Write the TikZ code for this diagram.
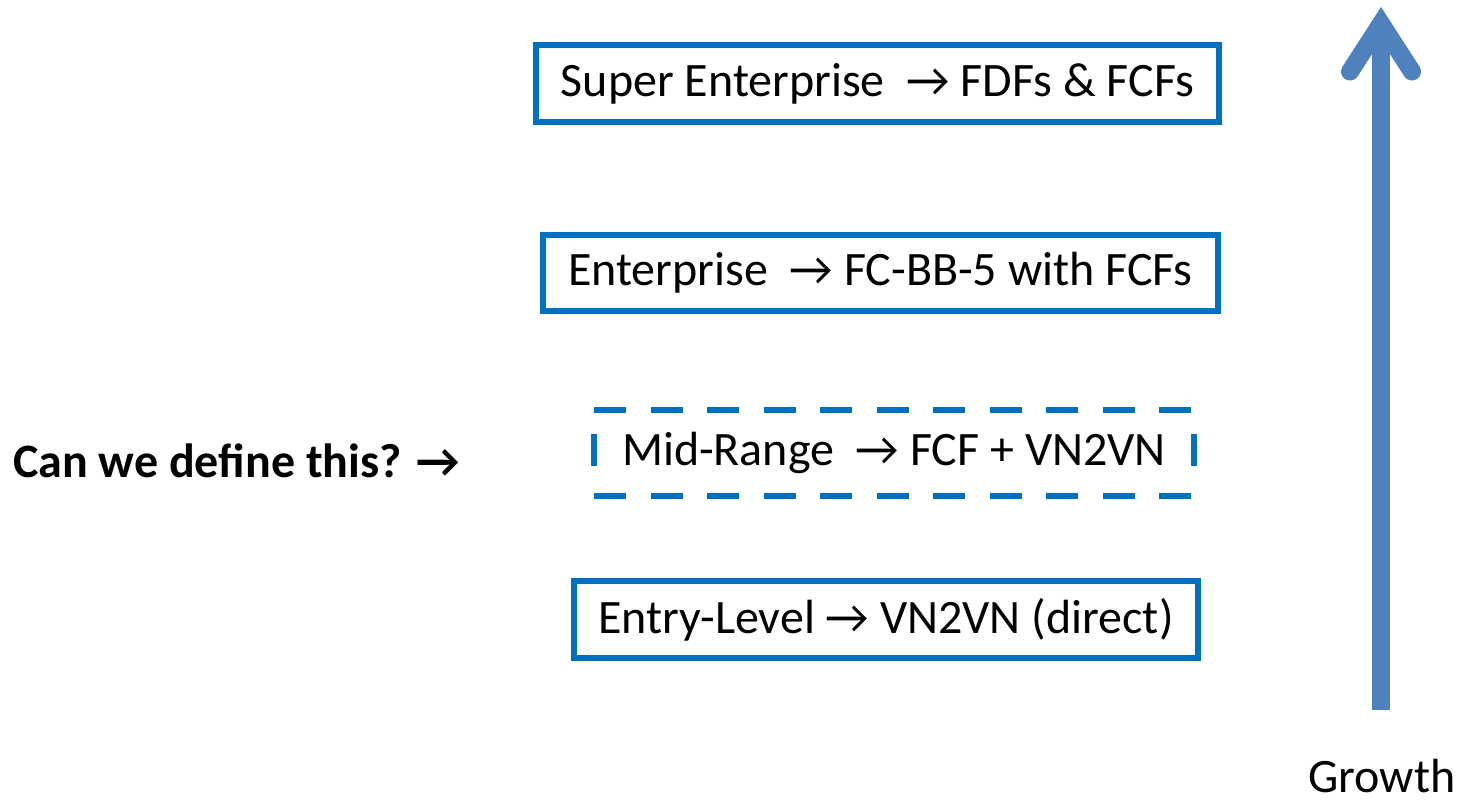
\documentclass[tikz,border=0pt]{standalone}
\usepackage{fontspec}
\setmainfont{Carlito}
\usetikzlibrary{arrows.meta}
\definecolor{boxblue}{HTML}{0070C0}
\definecolor{growblue}{HTML}{4F81BD}

\begin{document}
\begin{tikzpicture}[x=1pt, y=-1pt, line width=6pt,
    tier/.style={rectangle, inner sep=0pt, font=\fontsize{48}{56}\selectfont},
    tierline/.style={draw=boxblue}]
        \useasboundingbox (0,0) rectangle (1460,805);

        % Tiers
        \node[tier, tierline, minimum width=683pt, minimum height=77pt] (super) at (877.5,83.5) {Super Enterprise\ \ → FDFs \& FCFs};
        \node[tier, tierline, minimum width=675pt, minimum height=76pt] (ent) at (880.5,273) {Enterprise\ \ → FC-BB-5 with FCFs};
        \node[tier, minimum width=594pt, minimum height=80pt] (mid) at (894,453) {Mid-Range\ \ → FCF + VN2VN};
        \node[tier, tierline, minimum width=624pt, minimum height=77pt] (entry) at (886,619.5) {Entry-Level → VN2VN (direct)};

        % Dashed border of the mid tier
        \draw[boxblue, dash pattern=on 32pt off 24.5pt] (mid.north west) -- (mid.north east);
        \draw[boxblue, dash pattern=on 32pt off 24.5pt] (mid.south west) -- (mid.south east);
        \draw[boxblue, dash pattern=on 32pt off 48pt, dash phase=56pt] (mid.north west) -- (mid.south west);
        \draw[boxblue, dash pattern=on 32pt off 48pt, dash phase=56pt] (mid.north east) -- (mid.south east);

        % Question
        \node[tier, anchor=west, font=\fontsize{48}{56}\selectfont\bfseries] (ask) at (10,461) {Can we define this? →};

        % Growth axis
        \node[tier, anchor=base] (growth) at (1382,792) {Growth};
        \coordinate (g0) at (1381,710);
        \coordinate (g1) at (1381,7);
        \draw[growblue, line width=18pt, -{Straight Barb[length=48pt, width=62pt, line cap=round, line join=miter]}] (g0) -- (g1);
    \end{tikzpicture}
\end{document}
